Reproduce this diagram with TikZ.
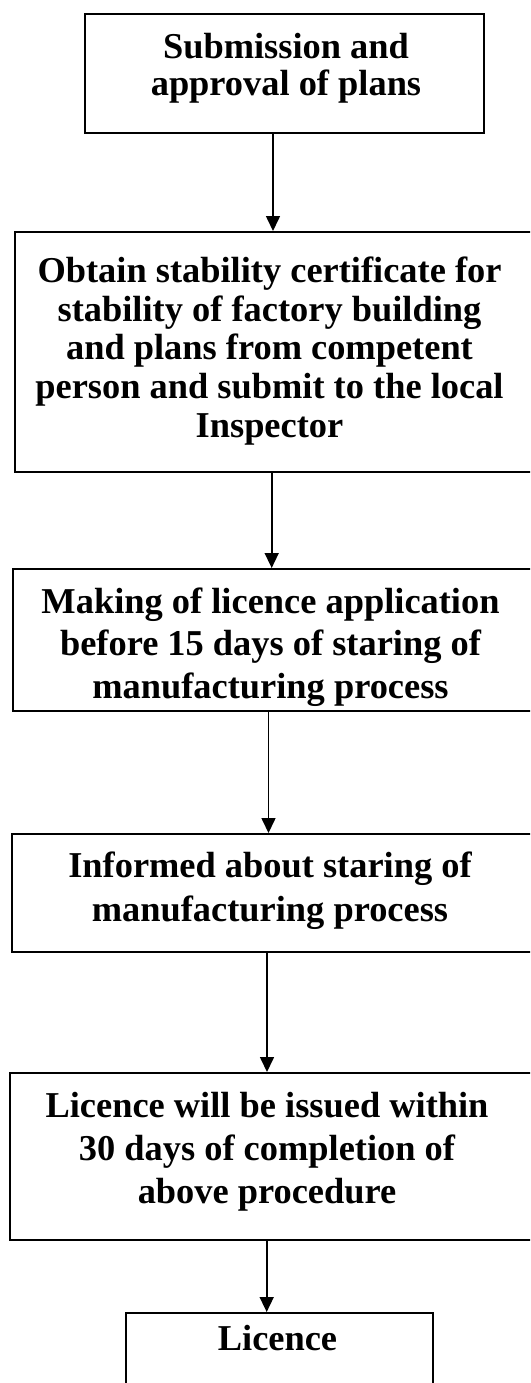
\documentclass[tikz,border=0pt]{standalone}
\usepackage{fontspec}
\setmainfont{Liberation Serif}
\usetikzlibrary{arrows.meta}
\begin{document}
\begin{tikzpicture}[x=1pt,y=-1pt,
  box/.style={draw, line width=2pt, rectangle, inner sep=0pt},
  txt/.style={align=center, inner sep=0pt, font=\bfseries\fontsize{36.4}{38.7}\selectfont},
  arr/.style={line width=1.6pt, -{Triangle[length=15pt,width=14pt]}}]
\useasboundingbox (0,0) rectangle (530,1383);
\clip (0,0) rectangle (530,1383);
% boxes
\node[box, minimum width=399pt, minimum height=119pt] (b1) at (284.5,73.5) {};
\node[box, minimum width=540pt, minimum height=240pt] (b2) at (285,352) {};
\node[box, minimum width=542pt, minimum height=142pt] (b3) at (284,640) {};
\node[box, minimum width=543pt, minimum height=118pt] (b4) at (283.5,893) {};
\node[box, minimum width=545.5pt, minimum height=167pt] (b5) at (282.25,1156.5) {};
\node[box, minimum width=307pt, minimum height=110pt] (b6) at (279.5,1368) {};
% texts
\node[txt, font=\bfseries\fontsize{36.4}{36.7}\selectfont] (t1) at (286,68.4) {Submission and\\approval of plans};
\node[txt, font=\bfseries\fontsize{36.4}{38.75}\selectfont] (t2) at (269.5,351) {Obtain stability certificate for\\stability of factory building\\and plans from competent\\person and submit to the local\\Inspector};
\node[txt, font=\bfseries\fontsize{36.4}{42.5}\selectfont] (t3) at (270.5,647) {Making of licence application\\before 15 days of staring of\\manufacturing process};
\node[txt, font=\bfseries\fontsize{36.4}{44}\selectfont] (t4) at (270,890.5) {Informed about staring of\\manufacturing process};
\node[txt, font=\bfseries\fontsize{36.4}{43.2}\selectfont] (t5) at (267,1151.6) {Licence will be issued within\\30 days of completion of\\above procedure};
\node[txt] (t6) at (277.5,1338) {Licence};
% connector columns
\coordinate (x1) at (273,0);
\coordinate (x2) at (271.7,0);
\coordinate (x3) at (268.5,0);
\coordinate (x4) at (267,0);
\coordinate (x5) at (266.7,0);
\draw[arr] (b1.south -| x1) -- (b2.north -| x1);
\draw[arr] (b2.south -| x2) -- (b3.north -| x2);
\draw[arr] (b3.south -| x3) -- (b4.north -| x3);
\draw[arr] (b4.south -| x4) -- (b5.north -| x4);
\draw[arr] (b5.south -| x5) -- (b6.north -| x5);
\end{tikzpicture}
\end{document}
